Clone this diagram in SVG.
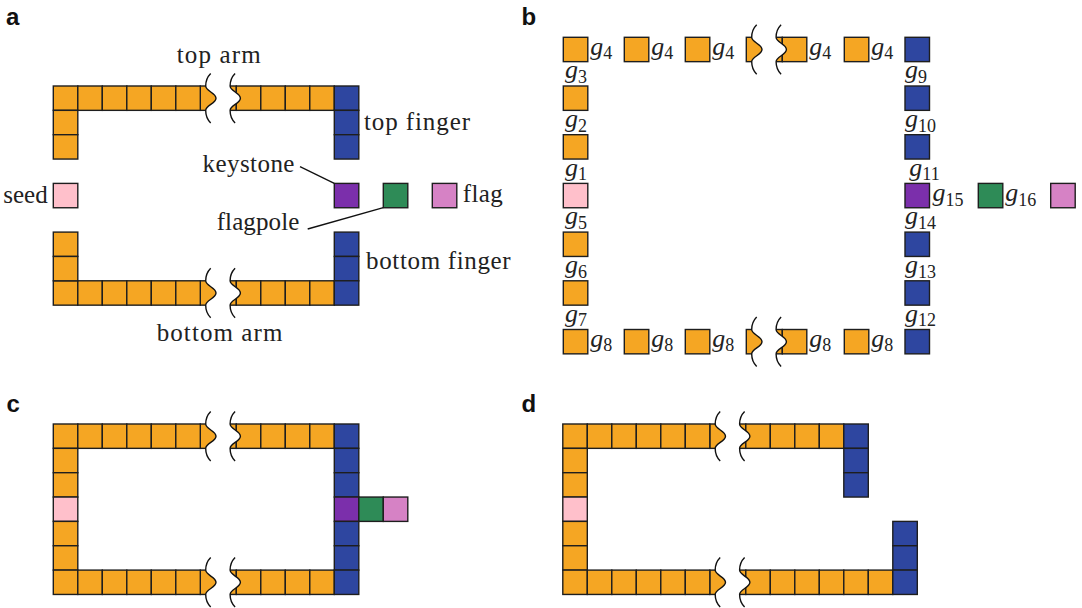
<svg xmlns="http://www.w3.org/2000/svg" xmlns:xlink="http://www.w3.org/1999/xlink" width="1082" height="608" viewBox="0 0 1082 608">
  <style>
    rect { stroke: #1e1e1e; stroke-width: 1.4; }
    .o { fill: #F5A623; }
    .bl { fill: #2E46A0; }
    .pk { fill: #FFC0CB; }
    .pu { fill: #7B2FAB; }
    .gr { fill: #2E8B57; }
    .fl { fill: #D682C5; }
    .band { fill: #ffffff; stroke: none; }
    .w { fill: none; stroke: #111; stroke-width: 1.4; }
    .ln { fill: none; stroke: #111; stroke-width: 1.3; }
    .t { font-family: "Liberation Serif", "Times New Roman", serif; font-size: 25px; fill: #222; }
    .m { font-family: "Liberation Serif", "Times New Roman", serif; font-style: italic; font-size: 26px; fill: #222; }
    .s { font-style: normal; font-size: 18px; }
    .lbl { font-family: "Liberation Sans", Arial, sans-serif; font-weight: bold; font-size: 24px; fill: #111; }
  </style>
  <defs>
    <!-- wavy break line, origin at the row's top-left minimum of the wave -->
    <path id="wv" d="M5,-12.5 C1.5,-9 0,-4 0,0 C0,5 10.3,7 10.3,12.2 C10.3,17.4 0,19.4 0,24.4 C0,28.4 1.5,33.4 5,36.9"/>
    <!-- white gap between the two wavy lines -->
    <path id="gap" d="M0,-1.5 L0,0 C0,5 10.3,7 10.3,12.2 C10.3,17.4 0,19.4 0,24.4 L0,25.9 L24.4,25.9 L24.4,24.4 C24.4,19.4 34.7,17.4 34.7,12.2 C34.7,7 24.4,5 24.4,0 L24.4,-1.5 Z"/>
    <g id="brk">
      <use xlink:href="#gap" class="band"/>
      <use xlink:href="#wv" class="w"/>
      <use xlink:href="#wv" x="24.4" class="w"/>
    </g>
  </defs>

  <!-- panel letters -->
  <g id="labels">
    <text class="lbl" x="6" y="25">a</text>
    <text class="lbl" x="521.5" y="25">b</text>
    <text class="lbl" x="6.5" y="411.5">c</text>
    <text class="lbl" x="521.5" y="411.5">d</text>
  </g>

  <!-- ===== Panel a: named parts ===== -->
  <g id="a-top-arm">
    <rect class="o" x="200.3" y="86" width="36" height="24.35"/>
    <rect class="o" x="53.3" y="86" width="24.5" height="24.35"/>
    <rect class="o" x="77.8" y="86" width="24.5" height="24.35"/>
    <rect class="o" x="102.3" y="86" width="24.5" height="24.35"/>
    <rect class="o" x="126.8" y="86" width="24.5" height="24.35"/>
    <rect class="o" x="151.3" y="86" width="24.5" height="24.35"/>
    <rect class="o" x="175.8" y="86" width="24.5" height="24.35"/>
    <rect class="o" x="236.3" y="86" width="24.5" height="24.35"/>
    <rect class="o" x="260.8" y="86" width="24.5" height="24.35"/>
    <rect class="o" x="285.3" y="86" width="24.5" height="24.35"/>
    <rect class="o" x="309.8" y="86" width="24.5" height="24.35"/>
    <rect class="o" x="53.3" y="110.35" width="24.5" height="24.35"/>
    <rect class="o" x="53.3" y="134.7" width="24.5" height="24.35"/>
    <use xlink:href="#brk" x="205.7" y="86"/>
  </g>
  <g id="a-top-finger">
    <rect class="bl" x="334.3" y="86" width="24.5" height="24.35"/>
    <rect class="bl" x="334.3" y="110.35" width="24.5" height="24.35"/>
    <rect class="bl" x="334.3" y="134.7" width="24.5" height="24.35"/>
  </g>
  <g id="a-seed"><rect class="pk" x="53.3" y="183.4" width="24.5" height="24.35"/></g>
  <g id="a-keystone"><rect class="pu" x="334.3" y="183.4" width="24.5" height="24.35"/></g>
  <g id="a-flagpole"><rect class="gr" x="383.3" y="183.4" width="24.5" height="24.35"/></g>
  <g id="a-flag"><rect class="fl" x="432.3" y="183.4" width="24.5" height="24.35"/></g>
  <g id="a-bottom-arm">
    <rect class="o" x="200.3" y="280.8" width="36" height="24.35"/>
    <rect class="o" x="53.3" y="280.8" width="24.5" height="24.35"/>
    <rect class="o" x="77.8" y="280.8" width="24.5" height="24.35"/>
    <rect class="o" x="102.3" y="280.8" width="24.5" height="24.35"/>
    <rect class="o" x="126.8" y="280.8" width="24.5" height="24.35"/>
    <rect class="o" x="151.3" y="280.8" width="24.5" height="24.35"/>
    <rect class="o" x="175.8" y="280.8" width="24.5" height="24.35"/>
    <rect class="o" x="236.3" y="280.8" width="24.5" height="24.35"/>
    <rect class="o" x="260.8" y="280.8" width="24.5" height="24.35"/>
    <rect class="o" x="285.3" y="280.8" width="24.5" height="24.35"/>
    <rect class="o" x="309.8" y="280.8" width="24.5" height="24.35"/>
    <rect class="o" x="53.3" y="232.1" width="24.5" height="24.35"/>
    <rect class="o" x="53.3" y="256.45" width="24.5" height="24.35"/>
    <use xlink:href="#brk" x="205.7" y="280.8"/>
  </g>
  <g id="a-bottom-finger">
    <rect class="bl" x="334.3" y="232.1" width="24.5" height="24.35"/>
    <rect class="bl" x="334.3" y="256.45" width="24.5" height="24.35"/>
    <rect class="bl" x="334.3" y="280.8" width="24.5" height="24.35"/>
  </g>
  <g id="a-connectors">
    <line class="ln" x1="300" y1="166.7" x2="334.3" y2="183.4"/>
    <line class="ln" x1="307.7" y1="229" x2="383.3" y2="207.7"/>
  </g>
  <g id="a-text">
    <text class="t" x="176.7" y="63" textLength="84">top arm</text>
    <text class="t" x="364" y="130" textLength="106">top finger</text>
    <text class="t" x="202.6" y="171.5" textLength="91.8">keystone</text>
    <text class="t" x="3.3" y="202.5" textLength="44.4">seed</text>
    <text class="t" x="462.7" y="202" textLength="40">flag</text>
    <text class="t" x="216.7" y="230" textLength="82.6">flagpole</text>
    <text class="t" x="366" y="269" textLength="144.7">bottom finger</text>
    <text class="t" x="156.7" y="341" textLength="125.7">bottom arm</text>
  </g>

  <!-- ===== Panel b: glue labels ===== -->
  <g id="b-top">
    <rect class="o" x="746.3" y="37.3" width="36" height="24.35"/>
    <rect class="o" x="563.3" y="37.3" width="24.5" height="24.35"/>
    <rect class="o" x="624.3" y="37.3" width="24.5" height="24.35"/>
    <rect class="o" x="685.3" y="37.3" width="24.5" height="24.35"/>
    <rect class="o" x="782.3" y="37.3" width="24.5" height="24.35"/>
    <rect class="o" x="844.3" y="37.3" width="24.5" height="24.35"/>
    <use xlink:href="#brk" x="751.7" y="37.3"/>
    <rect class="bl" x="905" y="37.3" width="24.5" height="24.35"/>
  </g>
  <g id="b-left">
    <rect class="o" x="563.3" y="86" width="24.5" height="24.35"/>
    <rect class="o" x="563.3" y="134.7" width="24.5" height="24.35"/>
    <rect class="pk" x="563.3" y="183.4" width="24.5" height="24.35"/>
    <rect class="o" x="563.3" y="232.1" width="24.5" height="24.35"/>
    <rect class="o" x="563.3" y="280.8" width="24.5" height="24.35"/>
  </g>
  <g id="b-right">
    <rect class="bl" x="905" y="86" width="24.5" height="24.35"/>
    <rect class="bl" x="905" y="134.7" width="24.5" height="24.35"/>
    <rect class="pu" x="905" y="183.4" width="24.5" height="24.35"/>
    <rect class="gr" x="978.3" y="183.4" width="24.5" height="24.35"/>
    <rect class="fl" x="1050.7" y="183.4" width="24.5" height="24.35"/>
    <rect class="bl" x="905" y="232.1" width="24.5" height="24.35"/>
    <rect class="bl" x="905" y="280.8" width="24.5" height="24.35"/>
  </g>
  <g id="b-bottom">
    <rect class="o" x="746.3" y="329.5" width="36" height="24.35"/>
    <rect class="o" x="563.3" y="329.5" width="24.5" height="24.35"/>
    <rect class="o" x="624.3" y="329.5" width="24.5" height="24.35"/>
    <rect class="o" x="685.3" y="329.5" width="24.5" height="24.35"/>
    <rect class="o" x="782.3" y="329.5" width="24.5" height="24.35"/>
    <rect class="o" x="844.3" y="329.5" width="24.5" height="24.35"/>
    <use xlink:href="#brk" x="751.7" y="329.5"/>
    <rect class="bl" x="905" y="329.5" width="24.5" height="24.35"/>
  </g>
  <g id="b-text">
    <text class="m" x="590.3" y="54.5">g<tspan class="s" dy="4.5">4</tspan></text>
    <text class="m" x="651.3" y="54.5">g<tspan class="s" dy="4.5">4</tspan></text>
    <text class="m" x="712.3" y="54.5">g<tspan class="s" dy="4.5">4</tspan></text>
    <text class="m" x="809.3" y="54.5">g<tspan class="s" dy="4.5">4</tspan></text>
    <text class="m" x="871.3" y="54.5">g<tspan class="s" dy="4.5">4</tspan></text>

    <text class="m" x="565" y="78.3">g<tspan class="s" dy="4.5">3</tspan></text>
    <text class="m" x="565" y="127">g<tspan class="s" dy="4.5">2</tspan></text>
    <text class="m" x="565" y="175.7">g<tspan class="s" dy="4.5">1</tspan></text>
    <text class="m" x="565" y="224.4">g<tspan class="s" dy="4.5">5</tspan></text>
    <text class="m" x="565" y="273.1">g<tspan class="s" dy="4.5">6</tspan></text>
    <text class="m" x="565" y="321.8">g<tspan class="s" dy="4.5">7</tspan></text>

    <text class="m" x="905" y="78.3">g<tspan class="s" dy="4.5">9</tspan></text>
    <text class="m" x="905" y="127">g<tspan class="s" dy="4.5">10</tspan></text>
    <text class="m" x="909.3" y="175.7">g<tspan class="s" dy="4.5">11</tspan></text>
    <text class="m" x="932.5" y="201">g<tspan class="s" dy="4.5">15</tspan></text>
    <text class="m" x="1005.3" y="201">g<tspan class="s" dy="4.5">16</tspan></text>
    <text class="m" x="905" y="224.4">g<tspan class="s" dy="4.5">14</tspan></text>
    <text class="m" x="905" y="273.1">g<tspan class="s" dy="4.5">13</tspan></text>
    <text class="m" x="905" y="321.8">g<tspan class="s" dy="4.5">12</tspan></text>

    <text class="m" x="590.3" y="346.7">g<tspan class="s" dy="4.5">8</tspan></text>
    <text class="m" x="651.3" y="346.7">g<tspan class="s" dy="4.5">8</tspan></text>
    <text class="m" x="712.3" y="346.7">g<tspan class="s" dy="4.5">8</tspan></text>
    <text class="m" x="809.3" y="346.7">g<tspan class="s" dy="4.5">8</tspan></text>
    <text class="m" x="871.3" y="346.7">g<tspan class="s" dy="4.5">8</tspan></text>
  </g>

  <!-- ===== Panel c: assembled frame with flag ===== -->
  <g id="c-frame">
    <rect class="o" x="200.3" y="424" width="36" height="24.35"/>
    <rect class="o" x="53.3" y="424" width="24.5" height="24.35"/>
    <rect class="o" x="77.8" y="424" width="24.5" height="24.35"/>
    <rect class="o" x="102.3" y="424" width="24.5" height="24.35"/>
    <rect class="o" x="126.8" y="424" width="24.5" height="24.35"/>
    <rect class="o" x="151.3" y="424" width="24.5" height="24.35"/>
    <rect class="o" x="175.8" y="424" width="24.5" height="24.35"/>
    <rect class="o" x="236.3" y="424" width="24.5" height="24.35"/>
    <rect class="o" x="260.8" y="424" width="24.5" height="24.35"/>
    <rect class="o" x="285.3" y="424" width="24.5" height="24.35"/>
    <rect class="o" x="309.8" y="424" width="24.5" height="24.35"/>
    <use xlink:href="#brk" x="205.7" y="424"/>

    <rect class="o" x="53.3" y="448.35" width="24.5" height="24.35"/>
    <rect class="o" x="53.3" y="472.7" width="24.5" height="24.35"/>
    <rect class="pk" x="53.3" y="497.05" width="24.5" height="24.35"/>
    <rect class="o" x="53.3" y="521.4" width="24.5" height="24.35"/>
    <rect class="o" x="53.3" y="545.75" width="24.5" height="24.35"/>

    <rect class="o" x="200.3" y="570.1" width="36" height="24.35"/>
    <rect class="o" x="53.3" y="570.1" width="24.5" height="24.35"/>
    <rect class="o" x="77.8" y="570.1" width="24.5" height="24.35"/>
    <rect class="o" x="102.3" y="570.1" width="24.5" height="24.35"/>
    <rect class="o" x="126.8" y="570.1" width="24.5" height="24.35"/>
    <rect class="o" x="151.3" y="570.1" width="24.5" height="24.35"/>
    <rect class="o" x="175.8" y="570.1" width="24.5" height="24.35"/>
    <rect class="o" x="236.3" y="570.1" width="24.5" height="24.35"/>
    <rect class="o" x="260.8" y="570.1" width="24.5" height="24.35"/>
    <rect class="o" x="285.3" y="570.1" width="24.5" height="24.35"/>
    <rect class="o" x="309.8" y="570.1" width="24.5" height="24.35"/>
    <use xlink:href="#brk" x="205.7" y="570.1"/>

    <rect class="bl" x="334.3" y="424" width="24.5" height="24.35"/>
    <rect class="bl" x="334.3" y="448.35" width="24.5" height="24.35"/>
    <rect class="bl" x="334.3" y="472.7" width="24.5" height="24.35"/>
    <rect class="pu" x="334.3" y="497.05" width="24.5" height="24.35"/>
    <rect class="gr" x="358.8" y="497.05" width="24.5" height="24.35"/>
    <rect class="fl" x="383.3" y="497.05" width="24.5" height="24.35"/>
    <rect class="bl" x="334.3" y="521.4" width="24.5" height="24.35"/>
    <rect class="bl" x="334.3" y="545.75" width="24.5" height="24.35"/>
    <rect class="bl" x="334.3" y="570.1" width="24.5" height="24.35"/>
  </g>

  <!-- ===== Panel d: misaligned fingers ===== -->
  <g id="d-frame">
    <rect class="o" x="709.8" y="424" width="36" height="24.35"/>
    <rect class="o" x="562.8" y="424" width="24.5" height="24.35"/>
    <rect class="o" x="587.3" y="424" width="24.5" height="24.35"/>
    <rect class="o" x="611.8" y="424" width="24.5" height="24.35"/>
    <rect class="o" x="636.3" y="424" width="24.5" height="24.35"/>
    <rect class="o" x="660.8" y="424" width="24.5" height="24.35"/>
    <rect class="o" x="685.3" y="424" width="24.5" height="24.35"/>
    <rect class="o" x="745.8" y="424" width="24.5" height="24.35"/>
    <rect class="o" x="770.3" y="424" width="24.5" height="24.35"/>
    <rect class="o" x="794.8" y="424" width="24.5" height="24.35"/>
    <rect class="o" x="819.3" y="424" width="24.5" height="24.35"/>
    <use xlink:href="#brk" x="715.2" y="424"/>
    <rect class="bl" x="843.8" y="424" width="24.5" height="24.35"/>
    <rect class="bl" x="843.8" y="448.35" width="24.5" height="24.35"/>
    <rect class="bl" x="843.8" y="472.7" width="24.5" height="24.35"/>

    <rect class="o" x="562.8" y="448.35" width="24.5" height="24.35"/>
    <rect class="o" x="562.8" y="472.7" width="24.5" height="24.35"/>
    <rect class="pk" x="562.8" y="497.05" width="24.5" height="24.35"/>
    <rect class="o" x="562.8" y="521.4" width="24.5" height="24.35"/>
    <rect class="o" x="562.8" y="545.75" width="24.5" height="24.35"/>

    <rect class="o" x="709.8" y="570.1" width="36" height="24.35"/>
    <rect class="o" x="562.8" y="570.1" width="24.5" height="24.35"/>
    <rect class="o" x="587.3" y="570.1" width="24.5" height="24.35"/>
    <rect class="o" x="611.8" y="570.1" width="24.5" height="24.35"/>
    <rect class="o" x="636.3" y="570.1" width="24.5" height="24.35"/>
    <rect class="o" x="660.8" y="570.1" width="24.5" height="24.35"/>
    <rect class="o" x="685.3" y="570.1" width="24.5" height="24.35"/>
    <rect class="o" x="745.8" y="570.1" width="24.5" height="24.35"/>
    <rect class="o" x="770.3" y="570.1" width="24.5" height="24.35"/>
    <rect class="o" x="794.8" y="570.1" width="24.5" height="24.35"/>
    <rect class="o" x="819.3" y="570.1" width="24.5" height="24.35"/>
    <rect class="o" x="843.8" y="570.1" width="24.5" height="24.35"/>
    <rect class="o" x="868.3" y="570.1" width="24.5" height="24.35"/>
    <use xlink:href="#brk" x="715.2" y="570.1"/>
    <rect class="bl" x="892.8" y="521.4" width="24.5" height="24.35"/>
    <rect class="bl" x="892.8" y="545.75" width="24.5" height="24.35"/>
    <rect class="bl" x="892.8" y="570.1" width="24.5" height="24.35"/>
  </g>
</svg>
